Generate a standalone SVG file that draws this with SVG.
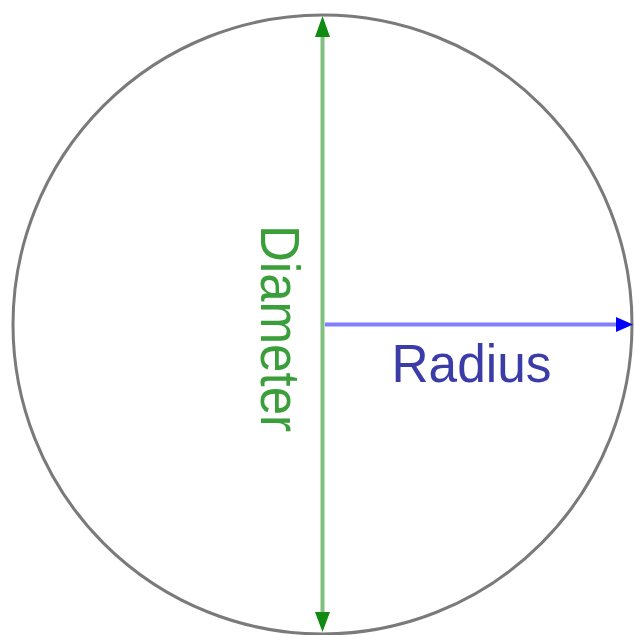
<svg xmlns="http://www.w3.org/2000/svg" width="634" height="635" viewBox="0 0 634 635">
<style>
.circ{fill:none;stroke:#7a7a7a;stroke-width:3}
.dia{stroke:#80c080;stroke-width:4}
.rad{stroke:#8080ff;stroke-width:4}
.lbl{font-family:"Liberation Sans",Arial,sans-serif}
</style>
<rect width="634" height="635" fill="#ffffff"/>
<g id="circle">
<circle class="circ" cx="322.5" cy="324.5" r="309.5"/>
</g>
<g id="connectors">
<line class="dia" x1="322.5" y1="30" x2="322.5" y2="619"/>
<polygon points="322.5,16 315,37 330,37" fill="#108a10"/>
<polygon points="322.5,632 315,612 330,612" fill="#108a10"/>
<line class="rad" x1="325" y1="324.5" x2="620" y2="324.5"/>
<polygon points="633,324.5 616,317 616,332" fill="#0000ff"/>
</g>
<g id="diameter-label">
<text class="lbl" transform="translate(261,328.5) rotate(90)" x="0" y="0" text-anchor="middle" font-size="56" textLength="207" lengthAdjust="spacingAndGlyphs" fill="#3a9e3a">Diameter</text>
</g>
<g id="radius-label">
<text class="lbl" x="391.5" y="381.5" font-size="53" textLength="160" lengthAdjust="spacingAndGlyphs" fill="#3c3ca8">Radius</text>
</g>
</svg>
